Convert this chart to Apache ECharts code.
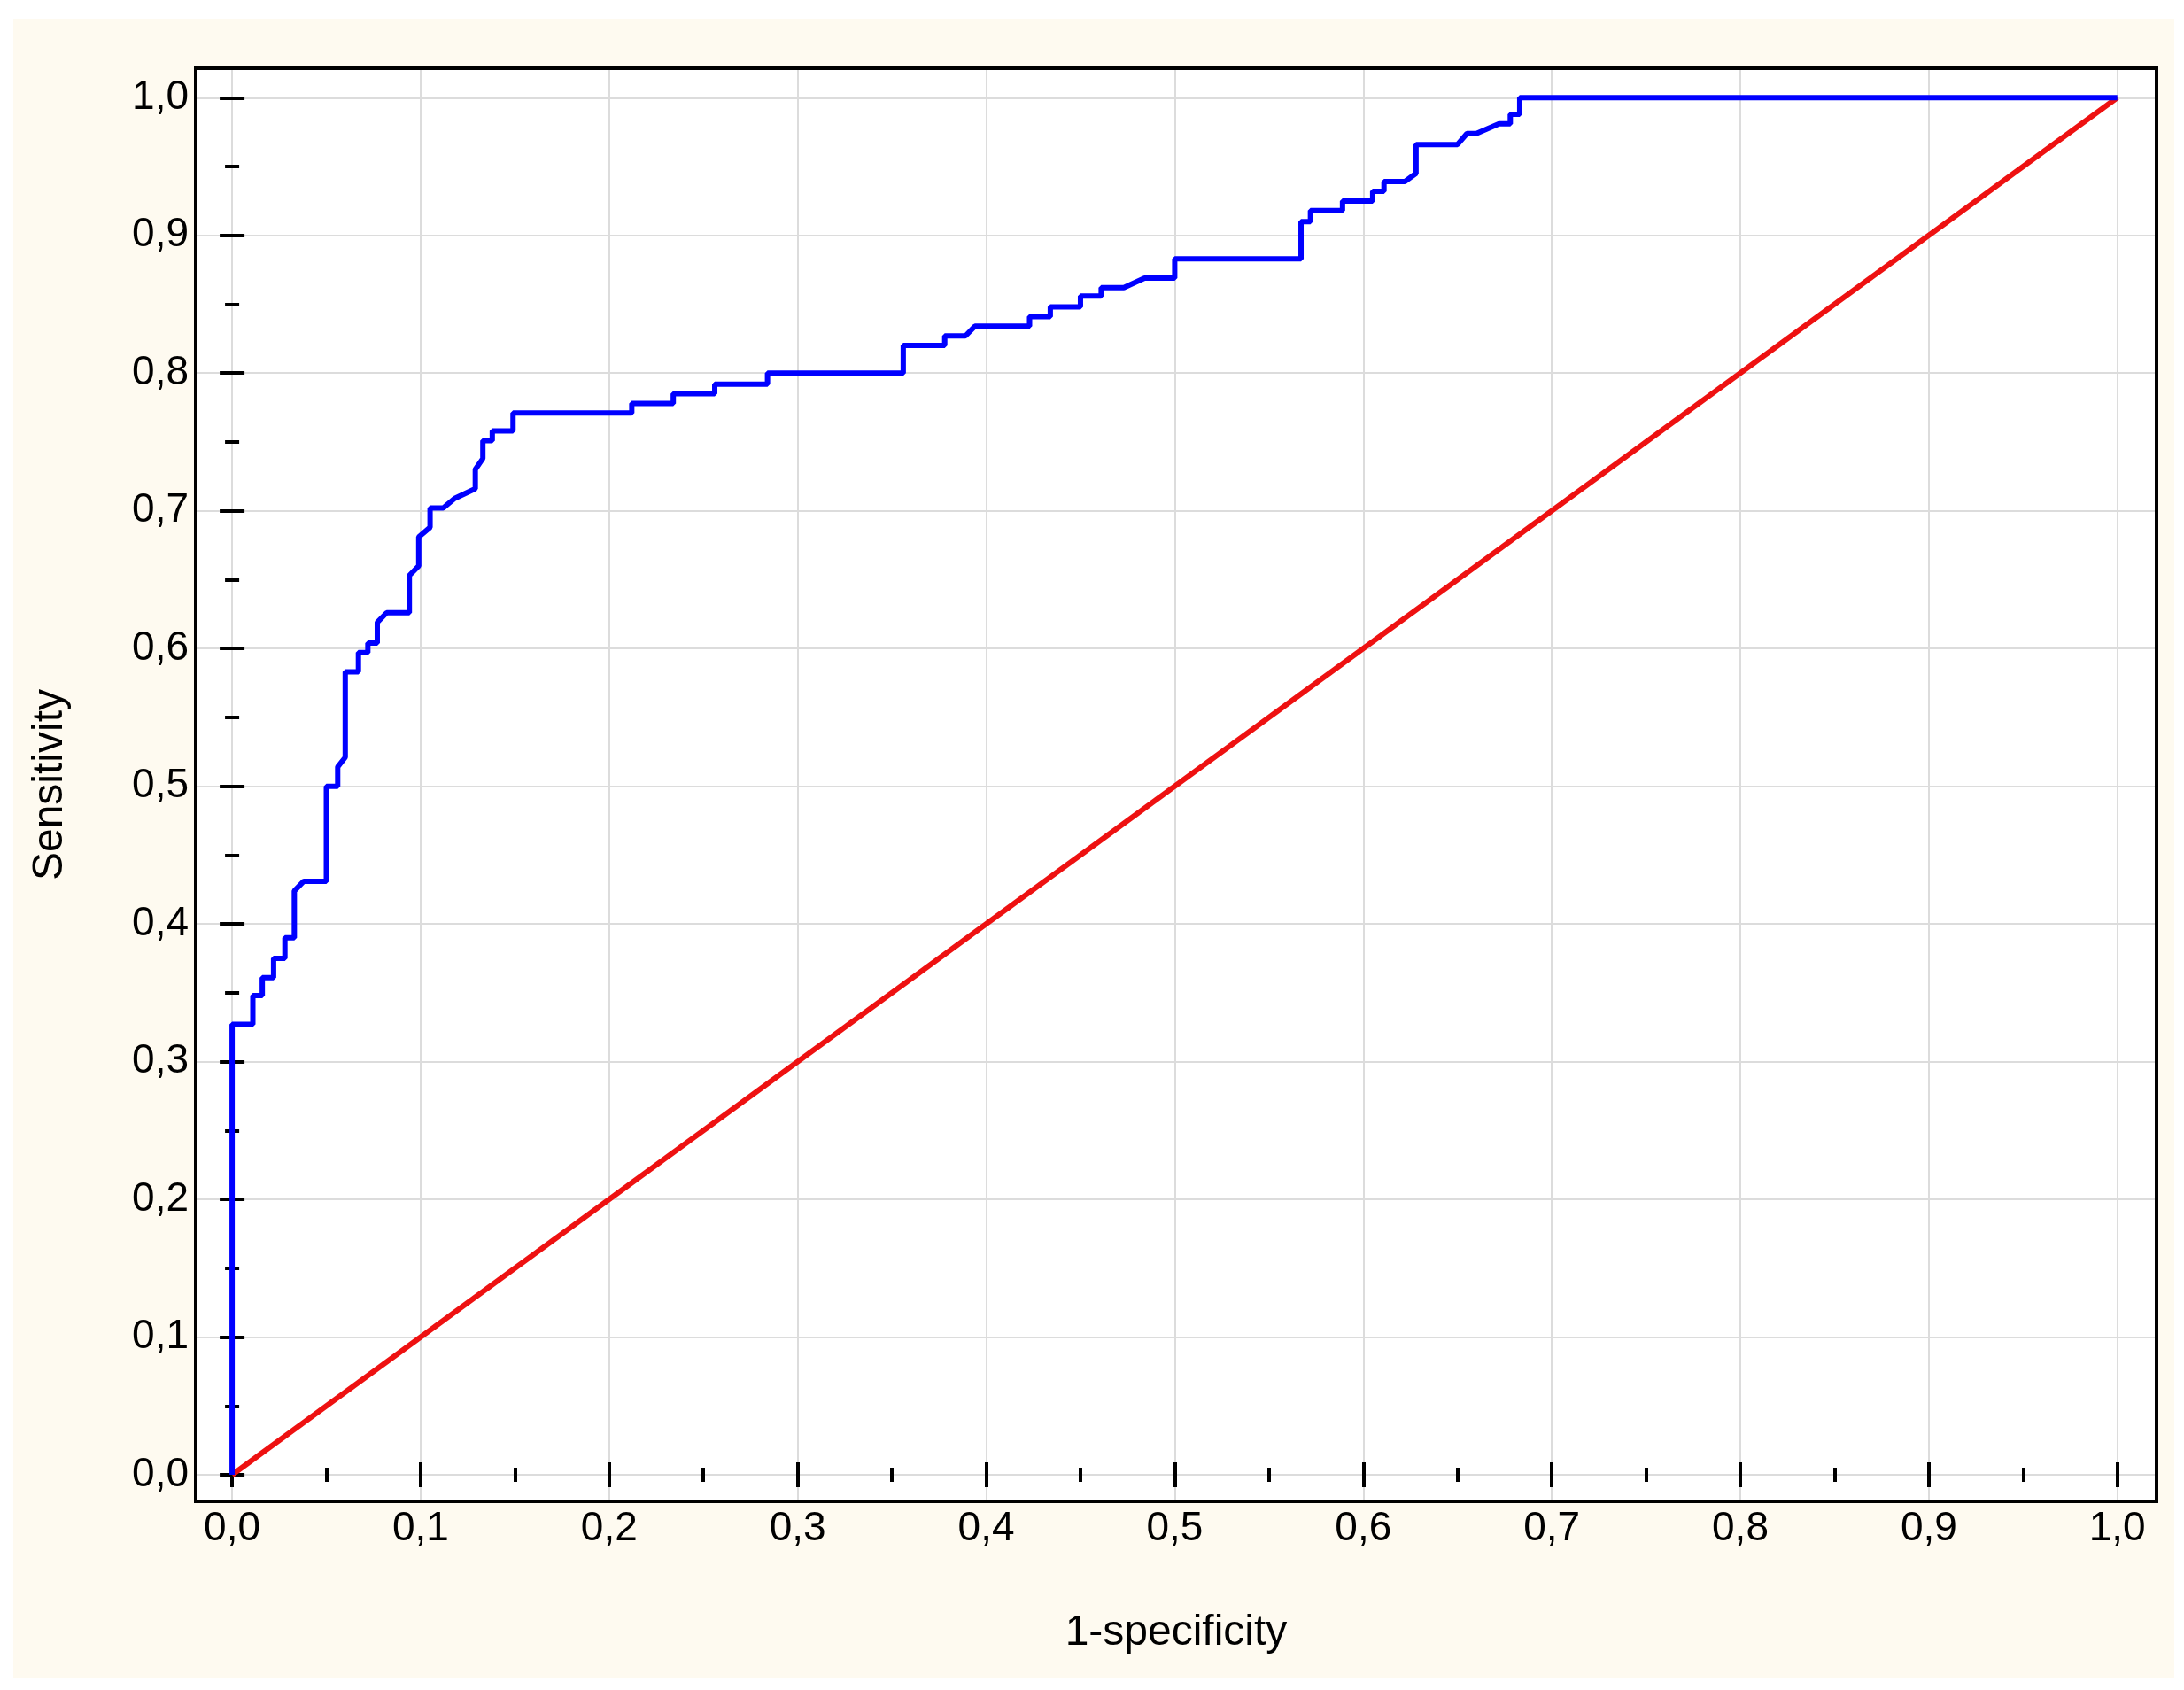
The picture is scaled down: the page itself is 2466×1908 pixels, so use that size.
<!DOCTYPE html>
<html>
<head>
<meta charset="utf-8">
<script src="https://cdn.jsdelivr.net/npm/echarts@6/dist/echarts.min.js"></script>
<style>
  html, body { margin: 0; padding: 0; background: #fff; }
  #chart { width: 2466px; height: 1908px; }
</style>
</head>
<body>
<div id="chart"></div>
<script>
// ROC curve (steps and short slants)
const fpr = [0, 0, 0.011, 0.011, 0.016, 0.016, 0.022, 0.022, 0.028, 0.028, 0.033, 0.033, 0.038, 0.050, 0.050,
  0.056, 0.056, 0.060, 0.060, 0.067, 0.067, 0.072, 0.072, 0.077, 0.077, 0.082, 0.094, 0.094, 0.099, 0.099, 0.105,
  0.105, 0.112, 0.118, 0.129, 0.129, 0.133, 0.133, 0.138, 0.138, 0.149, 0.149, 0.212, 0.212, 0.234, 0.234, 0.256,
  0.256, 0.284, 0.284, 0.356, 0.356, 0.378, 0.378, 0.389, 0.394, 0.423, 0.423, 0.434, 0.434, 0.450, 0.450, 0.461,
  0.461, 0.473, 0.484, 0.500, 0.500, 0.567, 0.567, 0.572, 0.572, 0.589, 0.589, 0.605, 0.605, 0.611, 0.611, 0.622,
  0.628, 0.628, 0.650, 0.655, 0.660, 0.672, 0.678, 0.678, 0.683, 0.683, 1.0];
const tpr = [0, 0.327, 0.327, 0.348, 0.348, 0.361, 0.361, 0.375, 0.375, 0.390, 0.390, 0.424, 0.431, 0.431, 0.500,
  0.500, 0.514, 0.521, 0.583, 0.583, 0.597, 0.597, 0.604, 0.604, 0.619, 0.626, 0.626, 0.653, 0.660, 0.681, 0.688,
  0.702, 0.702, 0.709, 0.716, 0.730, 0.738, 0.751, 0.751, 0.758, 0.758, 0.771, 0.771, 0.778, 0.778, 0.785, 0.785,
  0.792, 0.792, 0.800, 0.800, 0.820, 0.820, 0.827, 0.827, 0.834, 0.834, 0.841, 0.841, 0.848, 0.848, 0.856, 0.856,
  0.862, 0.862, 0.869, 0.869, 0.883, 0.883, 0.910, 0.910, 0.918, 0.918, 0.925, 0.925, 0.932, 0.932, 0.939, 0.939,
  0.945, 0.966, 0.966, 0.974, 0.974, 0.981, 0.981, 0.988, 0.988, 1.0, 1.0];
const diagX = [0, 1];
const diagY = [0, 1];
const majorTicks = [0, 0.1, 0.2, 0.3, 0.4, 0.5, 0.6, 0.7, 0.8, 0.9, 1.0];
const minorTicks = [0.05, 0.15, 0.25, 0.35, 0.45, 0.55, 0.65, 0.75, 0.85, 0.95];

const chart = echarts.init(document.getElementById('chart'));
const fmt = v => v.toFixed(1).replace('.', ',');
const font = '"Liberation Sans", Arial, sans-serif';

function axis(extra, ticks, len, withLabels, range) {
  return Object.assign({
    type: 'value', min: range[0], max: range[1],
    axisLine: { show: false },
    axisTick: { show: true, inside: true, length: len, customValues: ticks, lineStyle: { color: '#000', width: 4 } },
    splitLine: { show: false },
    axisLabel: withLabels
      ? { show: true, customValues: majorTicks, formatter: fmt, fontSize: 46, fontFamily: font, color: '#000' }
      : { show: false }
  }, extra);
}
const xr = [-0.0193, 1.0208];
const yr = [-0.0193, 1.0214];

chart.setOption({
  backgroundColor: '#fff',
  animation: false,
  graphic: [
    { type: 'rect', z: -10, shape: { x: 15, y: 22, width: 2440, height: 1872 }, style: { fill: '#fefaf0' } },
    { type: 'rect', z: -5, shape: { x: 221, y: 77, width: 2214, height: 1618 }, style: { fill: '#fff' } },
    { type: 'rect', z: 10, shape: { x: 221, y: 77, width: 2214, height: 1618 }, style: { fill: null, stroke: '#000', lineWidth: 4 } }
  ],
  grid: { left: 221, right: 31, top: 77, bottom: 213 },
  xAxis: [
    axis({
      position: 'bottom',
      splitLine: { show: true, lineStyle: { color: '#dcdcdc', width: 2 } },
      name: '1-specificity', nameLocation: 'middle', nameGap: 125,
      nameTextStyle: { fontSize: 48, fontFamily: font, color: '#000' }
    }, majorTicks, 14, true, xr),
    axis({ position: 'bottom' }, minorTicks, 8, false, xr),
    axis({ position: 'top' }, majorTicks, 14, false, xr),
    axis({ position: 'top' }, minorTicks, 8, false, xr)
  ],
  yAxis: [
    axis({
      position: 'left',
      splitLine: { show: true, lineStyle: { color: '#dcdcdc', width: 2 } },
      name: 'Sensitivity', nameLocation: 'middle', nameGap: 140,
      nameTextStyle: { fontSize: 48, fontFamily: font, color: '#000' }
    }, majorTicks, 14, true, yr),
    axis({ position: 'left' }, minorTicks, 8, false, yr),
    axis({ position: 'right' }, majorTicks, 14, false, yr),
    axis({ position: 'right' }, minorTicks, 8, false, yr)
  ],
  series: [
    {
      type: 'line', symbol: 'none',
      data: diagX.map((x, i) => [x, diagY[i]]),
      lineStyle: { color: '#ee1111', width: 6 }
    },
    {
      type: 'line', symbol: 'none',
      data: fpr.map((x, i) => [x, tpr[i]]),
      lineStyle: { color: '#0000ff', width: 6 }
    }
  ]
});
</script>
</body>
</html>
